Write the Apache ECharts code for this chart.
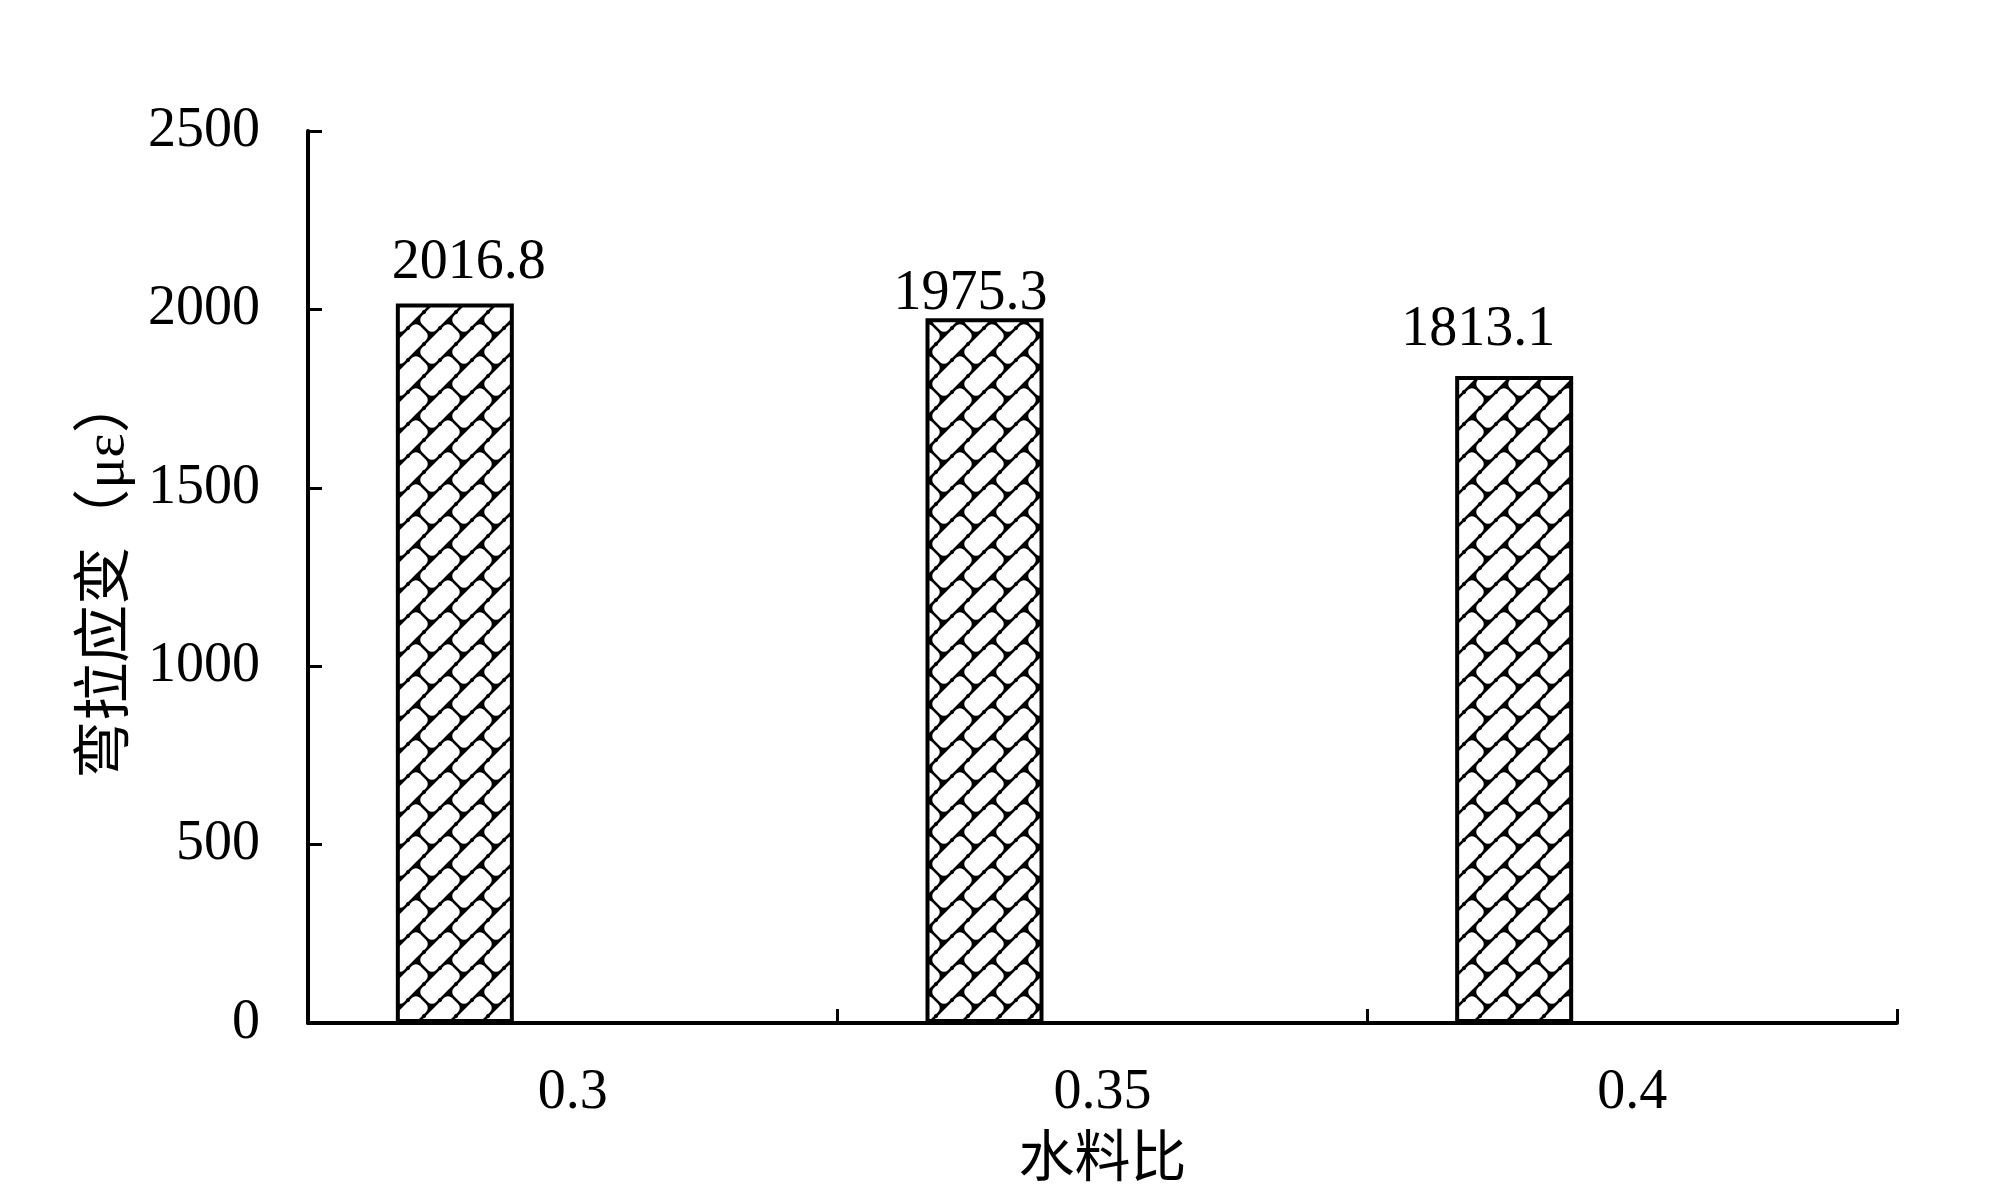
<!DOCTYPE html>
<html>
<head>
<meta charset="utf-8">
<style>
  html, body { margin: 0; padding: 0; background: #fff; }
  #chart { width: 2000px; height: 1200px; }
</style>
<script src="https://cdn.jsdelivr.net/npm/echarts@6/dist/echarts.min.js"></script>
</head>
<body>
<div id="chart"></div>
<script>
// ---- data ----
const categories = ['0.3', '0.35', '0.4'];
const strainValues = [2016.8, 1975.3, 1813.1];
const yTicks = { min: 0, max: 2500, interval: 500 };
const xAxisTitle = '水料比';
const yAxisTitle = '弯拉应变（με）';

// ---- styling (not data) ----
const labelNudge = [[14, -12], [-14, 4], [-36, -18]];
const serif = '"Liberation Serif", "Noto Sans CJK SC", serif';

function makePattern() {
  const T = 32;
  const c = document.createElement('canvas');
  c.width = T; c.height = T;
  const g = c.getContext('2d');
  g.fillStyle = '#000';
  g.fillRect(0, 0, T, T);
  const W = T / Math.SQRT2, L = 2 * W;
  g.save();
  g.rotate(-Math.PI / 4);
  const lw = 1.4, r = 5.5;
  g.fillStyle = '#fff';
  for (let j = -4; j <= 5; j++) {
    for (let i = -4; i <= 4; i++) {
      const x0 = i * L + ((j & 1) ? L / 2 : 0);
      const y0 = j * W;
      g.beginPath();
      g.roundRect(x0 + lw, y0 + lw, L - 2 * lw, W - 2 * lw, r);
      g.fill();
    }
  }
  g.fillStyle = '#000';
  for (let j = -4; j <= 5; j++) {
    for (let k = -8; k <= 8; k++) {
      g.beginPath();
      g.arc(k * L / 2 + L / 4, j * W, 2.0, 0, Math.PI * 2);
      g.fill();
    }
  }
  g.restore();
  return c;
}

const pattern = { image: makePattern(), repeat: 'repeat' };

const chart = echarts.init(document.getElementById('chart'), null, { renderer: 'canvas' });

const mainData = strainValues.map((v, i) => ({
  value: v,
  label: { offset: labelNudge[i] }
}));
const emptyData = categories.map(() => null);

const option = {
  backgroundColor: '#fff',
  animation: false,
  grid: { left: 308, top: 131, width: 1589, height: 892, containLabel: false },
  xAxis: {
    type: 'category',
    data: categories,
    boundaryGap: true,
    name: xAxisTitle,
    nameLocation: 'middle',
    nameGap: 110,
    nameTextStyle: { fontFamily: serif, fontSize: 56, color: '#000' },
    axisLine: { lineStyle: { color: '#000', width: 4 } },
    axisTick: { show: true, inside: true, length: 14, lineStyle: { color: '#000', width: 3 } },
    axisLabel: { fontFamily: serif, fontSize: 56, color: '#000', margin: 42 },
    splitLine: { show: false }
  },
  yAxis: {
    type: 'value',
    min: yTicks.min,
    max: yTicks.max,
    interval: yTicks.interval,
    name: yAxisTitle,
    nameLocation: 'middle',
    nameGap: 166,
    nameRotate: 90,
    nameTextStyle: { fontFamily: serif, fontSize: 58, color: '#000' },
    axisLine: { show: true, lineStyle: { color: '#000', width: 4 } },
    axisTick: { show: true, inside: true, length: 14, lineStyle: { color: '#000', width: 3 } },
    axisLabel: { fontFamily: serif, fontSize: 56, color: '#000', margin: 48, formatter: v => String(v) },
    splitLine: { show: false }
  },
  series: [
    {
      name: '弯拉应变',
      type: 'bar',
      data: mainData,
      barWidth: 118,
      barGap: '0%',
      itemStyle: { color: pattern, borderColor: '#000', borderWidth: 4 },
      label: {
        show: true,
        position: 'top',
        distance: 0,
        fontFamily: serif,
        fontSize: 56,
        color: '#000',
        formatter: p => String(p.value)
      }
    },
    { name: 'empty2', type: 'bar', data: emptyData, barWidth: 118, barGap: '0%' },
    { name: 'empty3', type: 'bar', data: emptyData, barWidth: 118, barGap: '0%' }
  ]
};

chart.setOption(option);
</script>
</body>
</html>
